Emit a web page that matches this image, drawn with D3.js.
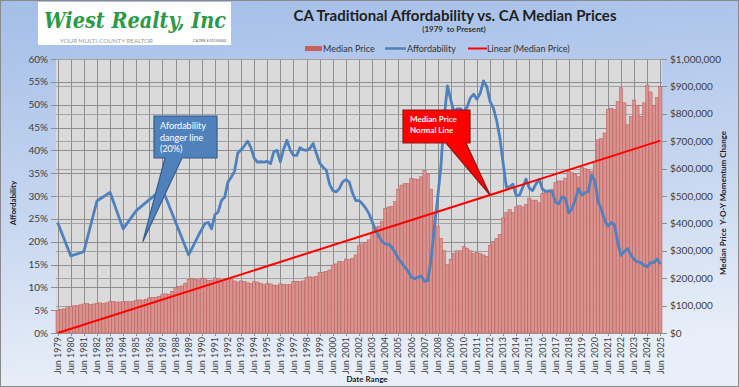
<!DOCTYPE html>
<html>
<head>
<meta charset="utf-8">
<script src="https://cdn.jsdelivr.net/npm/d3@7"></script>
<style>
  body { margin: 0; }
  svg { display: block; font-family: Lato, "Open Sans", sans-serif; }
</style>
</head>
<body>
<div id="chart"></div>
<script>
var width = 739;
var height = 387;

// CA median price, $ thousands, quarterly from Jun 1979 to Jun 2025
var priceQ = [
  83, 86, 88,            // 1979 (Jun, Sep, Dec)
  92, 96, 99, 100,       // 1980
  103, 106, 107, 105,    // 1981
  106, 109, 110, 108,    // 1982
  110, 114, 115, 113,    // 1983
  113, 115, 116, 114,    // 1984
  115, 119, 121, 120,    // 1985
  123, 128, 130, 129,    // 1986
  133, 140, 143, 142,    // 1987
  152, 165, 170, 172,    // 1988
  182, 196, 199, 196,    // 1989
  194, 200, 198, 192,    // 1990
  193, 201, 200, 194,    // 1991
  193, 199, 197, 190,    // 1992
  186, 190, 188, 183,    // 1993
  181, 187, 186, 181,    // 1994
  176, 180, 179, 175,    // 1995
  174, 179, 178, 176,    // 1996
  178, 188, 189, 187,    // 1997
  190, 203, 205, 204,    // 1998
  207, 220, 222, 225,    // 1999
  230, 248, 252, 262,    // 2000
  260, 270, 268, 272,    // 2001
  285, 318, 325, 330,    // 2002
  340, 368, 385, 390,    // 2003
  408, 455, 460, 462,    // 2004
  480, 525, 540, 545,    // 2005
  545, 565, 562, 560,    // 2006
  570, 593, 580, 525,    // 2007
  440, 390, 345, 300,    // 2008
  250, 268, 290, 300,    // 2009
  300, 315, 310, 300,    // 2010
  290, 295, 290, 285,    // 2011
  280, 320, 335, 345,    // 2012
  360, 420, 440, 450,    // 2013
  440, 460, 465, 460,    // 2014
  470, 490, 485, 485,    // 2015
  475, 510, 515, 520,    // 2016
  525, 550, 555, 555,    // 2017
  565, 590, 585, 580,    // 2018
  570, 605, 600, 595,    // 2019
  590, 625, 705, 710,    // 2020
  730, 815, 820, 815,    // 2021
  845, 895, 840, 760,    // 2022
  790, 850, 830, 790,    // 2023
  840, 905, 880, 830,    // 2024
  860, 900               // 2025 (Mar, Jun)
];

// affordability %, yearly (June) 1979-1989
var affordYears = [1979, 1980, 1981, 1982, 1983, 1984, 1985, 1986, 1987, 1988, 1989];
var affordAnnual = [24.2, 16.9, 17.8, 28.9, 30.8, 22.8, 26.8, 29.2, 31.5, 24.3, 17.1];

// affordability %, quarterly from Mar 1990 to Jun 2025
var affordQuarterly = [
  21.4, 22.7, 24.0, 24.2,  // 1990
  22.8, 25.9, 26.5, 29.0,  // 1991
  29.7, 33.1, 34.1, 35.4,  // 1992
  39.4, 40.1, 41.0, 42.0,  // 1993
  40.6, 38.3, 37.4, 37.5,  // 1994
  37.4, 37.6, 37.1, 39.7,  // 1995
  40.0, 37.5, 40.3, 42.2,  // 1996
  40.1, 38.9, 38.9, 40.6,  // 1997
  40.1, 40.0, 40.4, 41.5,  // 1998
  39.3, 37.2, 36.3, 35.7,  // 1999
  32.6, 31.2, 30.9, 31.6,  // 2000
  33.1, 33.6, 33.1, 30.7,  // 2001
  29.0, 29.0, 28.3, 27.4,  // 2002
  26.2, 24.4, 22.6, 21.2,  // 2003
  20.1, 19.5, 19.4, 18.8,  // 2004
  17.7, 16.3, 15.4, 14.4,  // 2005
  13.5, 12.2, 11.9, 12.2,  // 2006
  12.5, 11.3, 11.5, 16.0,  // 2007
  23.1, 29.5, 36.5, 47.0,  // 2008
  54.1, 51.1, 48.4, 49.1,  // 2009
  49.1, 48.3, 49.5, 51.5,  // 2010
  52.3, 51.2, 52.5, 55.2,  // 2011
  54.0, 50.7, 49.3, 46.6,  // 2012
  42.8, 37.2, 31.9, 32.0,  // 2013
  32.6, 30.1, 30.2, 31.9,  // 2014
  33.7, 31.7, 31.2, 32.6,  // 2015
  33.7, 31.5, 31.0, 31.1,  // 2016
  30.9, 28.6, 28.3, 29.8,  // 2017
  29.5, 26.3, 27.2, 29.1,  // 2018
  31.6, 30.2, 30.7, 31.0,  // 2019
  34.6, 33.3, 28.8, 27.0,  // 2020
  24.7, 23.4, 24.2, 23.7,  // 2021
  19.8, 17.0, 17.9, 18.5,  // 2022
  17.1, 16.1, 15.6, 15.4,  // 2023
  14.8, 14.5, 15.4, 15.4,  // 2024
  16.2, 15.1               // 2025
];

// linear trend of median price ($ thousands), first and last category
var trendEnds = [0, 702];

var leftTicks = [0, 5, 10, 15, 20, 25, 30, 35, 40, 45, 50, 55, 60];
var rightTicks = [0, 100, 200, 300, 400, 500, 600, 700, 800, 900, 1000];

var fmtKey = d3.timeFormat("%Y-%m");
var fmtTick = d3.timeFormat("%b %Y");
var quarterDates = d3.timeMonth.range(new Date(1979, 5, 1), new Date(2025, 6, 1), 3);
var keys = quarterDates.map(fmtKey);
var junDates = d3.timeYear.range(new Date(1979, 0, 1), new Date(2026, 0, 1)).map(function (d) {
  return new Date(d.getFullYear(), 5, 1);
});

var plot = { left: 56, right: 662, top: 59, bottom: 333 };

var svg = d3.select("#chart").append("svg")
  .attr("width", width)
  .attr("height", height);

// background gradient
var defs = svg.append("defs");
var grad = defs.append("linearGradient").attr("id", "bg")
  .attr("x1", 0).attr("y1", 0).attr("x2", 0.15).attr("y2", 1);
grad.append("stop").attr("offset", "0%").attr("stop-color", "#a4bee8");
grad.append("stop").attr("offset", "55%").attr("stop-color", "#c6d6f0");
grad.append("stop").attr("offset", "100%").attr("stop-color", "#e9eff8");

svg.append("rect")
  .attr("x", 0.5).attr("y", 0.5)
  .attr("width", width - 1).attr("height", height - 1)
  .attr("fill", "url(#bg)")
  .attr("stroke", "#8a8a8a");

// scales
var x = d3.scaleBand().domain(keys).range([plot.left, plot.right]).paddingInner(0);
function cx(k) { return x(k) + x.bandwidth() / 2; }
var yL = d3.scaleLinear().domain([0, 60]).range([plot.bottom, plot.top]);
var yR = d3.scaleLinear().domain([0, 1000]).range([plot.bottom, plot.top]);

// plot area
svg.append("rect")
  .attr("x", plot.left).attr("y", plot.top)
  .attr("width", plot.right - plot.left).attr("height", plot.bottom - plot.top)
  .attr("fill", "#dadada");

var grid = svg.append("g").attr("stroke", "#8e8e8e").attr("stroke-width", 1);
grid.selectAll("line.gx")
  .data(junDates)
  .enter().append("line")
  .attr("class", "gx")
  .attr("x1", function (d) { return Math.round(cx(fmtKey(d))) + 0.5; })
  .attr("x2", function (d) { return Math.round(cx(fmtKey(d))) + 0.5; })
  .attr("y1", plot.top).attr("y2", plot.bottom);
grid.selectAll("line.gl")
  .data(leftTicks)
  .enter().append("line")
  .attr("class", "gl")
  .attr("x1", plot.left).attr("x2", plot.right)
  .attr("y1", function (d) { return Math.round(yL(d)) + 0.5; })
  .attr("y2", function (d) { return Math.round(yL(d)) + 0.5; });
grid.selectAll("line.gr")
  .data(rightTicks)
  .enter().append("line")
  .attr("class", "gr")
  .attr("stroke", "#a2a2a2")
  .attr("x1", plot.left).attr("x2", plot.right)
  .attr("y1", function (d) { return Math.round(yR(d)) + 0.5; })
  .attr("y2", function (d) { return Math.round(yR(d)) + 0.5; });

// median price bars
svg.append("g").selectAll("rect")
  .data(priceQ)
  .enter().append("rect")
  .attr("x", function (d, i) { return x(keys[i]); })
  .attr("y", function (d) { return yR(d); })
  .attr("width", x.bandwidth())
  .attr("height", function (d) { return plot.bottom - yR(d); })
  .attr("fill", "#d8928f")
  .attr("stroke", "#bd5855")
  .attr("stroke-width", 0.5);

// affordability line
var affordPts = affordYears.map(function (yr, i) {
  return { k: fmtKey(new Date(yr, 5, 1)), v: affordAnnual[i] };
});
var qDates = d3.timeMonth.range(new Date(1990, 2, 1), new Date(2025, 6, 1), 3);
qDates.forEach(function (d, i) {
  affordPts.push({ k: fmtKey(d), v: affordQuarterly[i] });
});

var affordLine = d3.line()
  .x(function (d) { return cx(d.k); })
  .y(function (d) { return yL(d.v); });

svg.append("path")
  .datum(affordPts)
  .attr("d", affordLine)
  .attr("fill", "none")
  .attr("stroke", "#4f81bd")
  .attr("stroke-width", 2.8)
  .attr("stroke-linejoin", "round");

// linear trend
var trendPts = [{ k: keys[0], v: trendEnds[0] }, { k: keys[keys.length - 1], v: trendEnds[1] }];
svg.append("path")
  .datum(trendPts)
  .attr("d", d3.line().x(function (d) { return cx(d.k); }).y(function (d) { return yR(d.v); }))
  .attr("stroke", "#ff0000")
  .attr("stroke-width", 2);

// axes
var axisColor = "#404040";
var left = svg.append("g");
left.selectAll("line")
  .data(leftTicks).enter().append("line")
  .attr("x1", plot.left - 5).attr("x2", plot.left)
  .attr("y1", function (d) { return Math.round(yL(d)) + 0.5; })
  .attr("y2", function (d) { return Math.round(yL(d)) + 0.5; })
  .attr("stroke", "#8e8e8e");
left.selectAll("text")
  .data(leftTicks).enter().append("text")
  .attr("x", plot.left - 8)
  .attr("y", function (d) { return yL(d); })
  .attr("dy", "0.35em")
  .attr("text-anchor", "end")
  .attr("font-size", 10)
  .attr("fill", axisColor)
  .text(function (d) { return d + "%"; });

var right = svg.append("g");
right.selectAll("line")
  .data(rightTicks).enter().append("line")
  .attr("x1", plot.right).attr("x2", plot.right + 5)
  .attr("y1", function (d) { return Math.round(yR(d)) + 0.5; })
  .attr("y2", function (d) { return Math.round(yR(d)) + 0.5; })
  .attr("stroke", "#8e8e8e");
right.selectAll("text")
  .data(rightTicks).enter().append("text")
  .attr("x", plot.right + 8)
  .attr("y", function (d) { return yR(d); })
  .attr("dy", "0.35em")
  .attr("font-size", 10)
  .attr("fill", axisColor)
  .text(function (d) { return "$" + d3.format(",")(d * 1000); });

var bottom = svg.append("g");
bottom.selectAll("line")
  .data(junDates).enter().append("line")
  .attr("x1", function (d) { return Math.round(cx(fmtKey(d))) + 0.5; })
  .attr("x2", function (d) { return Math.round(cx(fmtKey(d))) + 0.5; })
  .attr("y1", plot.bottom).attr("y2", plot.bottom + 3)
  .attr("stroke", "#8e8e8e");
bottom.selectAll("text")
  .data(junDates).enter().append("text")
  .attr("transform", function (d) {
    return "translate(" + cx(fmtKey(d)) + "," + (plot.bottom + 4) + ") rotate(-90)";
  })
  .attr("dy", "0.35em")
  .attr("text-anchor", "end")
  .attr("font-size", 9)
  .attr("fill", axisColor)
  .text(function (d) { return fmtTick(d); });

// axis titles
svg.append("text")
  .attr("transform", "translate(16,203) rotate(-90)")
  .attr("text-anchor", "middle")
  .attr("font-size", 8).attr("font-weight", "bold").attr("fill", "#222")
  .text("Affordability");
svg.append("text")
  .attr("transform", "translate(726,203) rotate(-90)")
  .attr("text-anchor", "middle")
  .attr("font-size", 8).attr("font-weight", "bold").attr("fill", "#222")
  .attr("xml:space", "preserve")
  .text("Median Price  Y-O-Y Momentum Change");
svg.append("text")
  .attr("x", 367).attr("y", 382)
  .attr("text-anchor", "middle")
  .attr("font-size", 8).attr("font-weight", "bold").attr("fill", "#222")
  .text("Date Range");

// title
svg.append("text")
  .attr("x", 455).attr("y", 21)
  .attr("text-anchor", "middle")
  .attr("font-size", 15).attr("font-weight", "bold").attr("fill", "#1f1f1f")
  .text("CA Traditional Affordability vs. CA Median Prices");
svg.append("text")
  .attr("x", 454).attr("y", 32)
  .attr("text-anchor", "middle")
  .attr("font-size", 8).attr("font-weight", "bold").attr("fill", "#333")
  .attr("xml:space", "preserve")
  .text("(1979  to Present)");

// legend
var legend = svg.append("g").attr("font-size", 9).attr("fill", "#333");
legend.append("rect").attr("x", 305).attr("y", 46).attr("width", 17).attr("height", 5).attr("fill", "#c9605d");
legend.append("text").attr("x", 323).attr("y", 51.5).text("Median Price");
legend.append("line").attr("x1", 385).attr("x2", 406).attr("y1", 48.5).attr("y2", 48.5)
  .attr("stroke", "#4f81bd").attr("stroke-width", 2.5);
legend.append("text").attr("x", 407).attr("y", 51.5).text("Affordability");
legend.append("line").attr("x1", 468).attr("x2", 487).attr("y1", 48.5).attr("y2", 48.5)
  .attr("stroke", "#ff0000").attr("stroke-width", 2);
legend.append("text").attr("x", 487).attr("y", 51.5).text("Linear (Median Price)");

// logo
var logo = svg.append("g");
logo.append("rect").attr("x", 38).attr("y", 2).attr("width", 193).attr("height", 43).attr("fill", "#ffffff");
logo.append("text")
  .attr("x", 44).attr("y", 28)
  .attr("font-family", "'DejaVu Serif', serif")
  .attr("font-style", "italic").attr("font-weight", "bold")
  .attr("font-size", 22)
  .attr("fill", "#2a9a48")
  .attr("textLength", 182).attr("lengthAdjust", "spacingAndGlyphs")
  .text("Wiest Realty, Inc");
logo.append("text")
  .attr("x", 60).attr("y", 42.5)
  .attr("font-size", 5.5).attr("fill", "#9a9a9a")
  .attr("textLength", 93).attr("lengthAdjust", "spacingAndGlyphs")
  .text("YOUR MULTI-COUNTY REALTOR");
logo.append("text")
  .attr("x", 193).attr("y", 42)
  .attr("font-size", 3.5).attr("fill", "#555")
  .attr("textLength", 33).attr("lengthAdjust", "spacingAndGlyphs")
  .text("CA DRE # 01155000");

// callout: danger line
var tipA = [cx("1985-12"), yL(20)];
var boxA = { x: 154, y: 116, w: 63, h: 42 };
svg.append("path")
  .attr("d", "M" + boxA.x + "," + boxA.y +
    "H" + (boxA.x + boxA.w) + "V" + (boxA.y + boxA.h) +
    "H182L" + tipA[0] + "," + tipA[1] + "L165," + (boxA.y + boxA.h) +
    "H" + boxA.x + "Z")
  .attr("fill", "#4f81bd")
  .attr("stroke", "#385d8a")
  .attr("stroke-width", 1.2);
var tA = svg.append("g").attr("font-size", 9).attr("fill", "#ffffff");
["Afordability", "danger line", "(20%)"].forEach(function (s, i) {
  tA.append("text").attr("x", 160).attr("y", 129 + i * 11.5).text(s);
});

// callout: normal line
var tipB = [cx("2012-06"), yR(trendEnds[0] + (trendEnds[1] - trendEnds[0]) * keys.indexOf("2012-06") / (keys.length - 1))];
var boxB = { x: 403, y: 110, w: 67, h: 33 };
svg.append("path")
  .attr("d", "M" + boxB.x + "," + boxB.y +
    "H" + (boxB.x + boxB.w) + "V" + (boxB.y + boxB.h) +
    "H466L" + tipB[0] + "," + tipB[1] + "L446," + (boxB.y + boxB.h) +
    "H" + boxB.x + "Z")
  .attr("fill", "#ff0000")
  .attr("stroke", "#8b1a1a")
  .attr("stroke-width", 1.2);
var tB = svg.append("g").attr("font-size", 8).attr("font-weight", "bold").attr("fill", "#ffffff")
  .attr("xml:space", "preserve");
["Median  Price", "Normal Line"].forEach(function (s, i) {
  tB.append("text").attr("x", 410).attr("y", 122 + i * 10.5).text(s);
});
</script>
</body>
</html>
